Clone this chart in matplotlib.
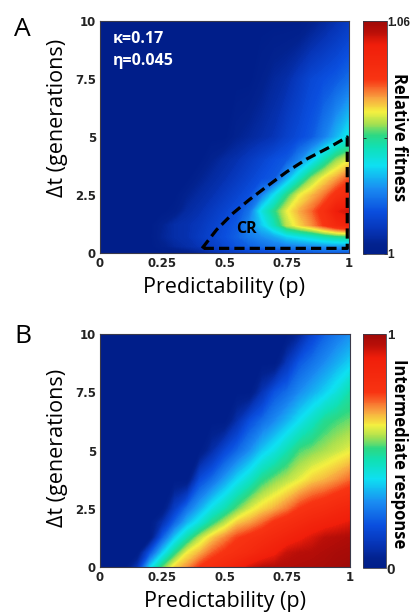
import numpy as np
import matplotlib
matplotlib.use("Agg")
import matplotlib.pyplot as plt
from matplotlib.colors import LinearSegmentedColormap, Normalize
from matplotlib.cm import ScalarMappable

# ---- grid coordinates -------------------------------------------------------
p_grid = np.round(np.arange(0, 1.0001, 0.05), 2)          # predictability
dt_rows_a = [0, 0.3, 0.7, 1.2, 1.8, 2.5, 3.2, 4.0, 5.0, 7.5, 10]   # generations
dt_rows_b = [0, 0.6, 1.25, 1.9, 2.5, 3.75, 5.0, 6.25, 7.5, 8.75, 10]

# ---- panel A: relative fitness (rows follow dt_rows_a, columns follow p_grid) ----
fit_00 = [1.000]*7 + [1.0012, 1.003, 1.0048, 1.006, 1.0072, 1.0084, 1.009, 1.0096, 1.0102, 1.0108, 1.0114, 1.012, 1.012, 1.012]
fit_03 = [1.000]*5 + [1.0018, 1.0036, 1.0048, 1.006, 1.0078, 1.0096, 1.0114, 1.0126, 1.0138, 1.015, 1.0156, 1.0162, 1.0168, 1.0174, 1.018, 1.018]
fit_07 = [1.000]*5 + [1.003, 1.0048, 1.0054, 1.0072, 1.009, 1.0108, 1.0126, 1.015, 1.0168, 1.0186, 1.0216, 1.0234, 1.0252, 1.0276, 1.0294, 1.030]
fit_12 = [1.000]*5 + [1.0024, 1.0048, 1.0054, 1.0066, 1.0084, 1.0102, 1.012, 1.0168, 1.021, 1.027, 1.0342, 1.0378, 1.0408, 1.045, 1.0492, 1.0516]
fit_18 = [1.000]*6 + [1.0012, 1.0042, 1.0054, 1.0072, 1.009, 1.0108, 1.0144, 1.024, 1.030, 1.036, 1.0396, 1.0426, 1.0468, 1.054, 1.0558]
fit_25 = [1.000]*7 + [1.0024, 1.0042, 1.0054, 1.0072, 1.009, 1.0108, 1.0156, 1.0228, 1.030, 1.036, 1.039, 1.042, 1.0462, 1.0492]
fit_32 = [1.000]*8 + [1.0024, 1.0042, 1.0054, 1.0072, 1.009, 1.0108, 1.012, 1.0192, 1.0264, 1.033, 1.0372, 1.0402, 1.0438]
fit_40 = [1.000]*9 + [1.0024, 1.0042, 1.0054, 1.0072, 1.009, 1.0108, 1.012, 1.0162, 1.0216, 1.0276, 1.033, 1.036]
fit_50 = [1.000]*11 + [1.0024, 1.0036, 1.0048, 1.006, 1.0084, 1.0102, 1.012, 1.0156, 1.0198, 1.024]
fit_75 = [1.000]*13 + [1.0018, 1.0036, 1.0048, 1.0072, 1.0096, 1.0108, 1.012, 1.0138]
fit_100 = [1.000]*17 + [1.0018, 1.0036, 1.0054, 1.0072]
fitness = np.array([fit_00, fit_03, fit_07, fit_12, fit_18, fit_25,
                    fit_32, fit_40, fit_50, fit_75, fit_100])

# dashed boundary of the CR region
cr_p = [0.41, 0.468, 0.535, 0.60, 0.669, 0.75, 0.83, 0.92, 0.993]
cr_dt = [0.2, 1.0, 1.72, 2.3, 2.86, 3.5, 4.05, 4.55, 5.0]
cr_floor = 0.2

# ---- panel B: intermediate response (rows follow dt_rows_b) ----------------
resp_000 = [0, 0, 0, 0.10, 0.36, 0.52, 0.63, 0.68, 0.75, 0.79, 0.83, 0.87, 0.92, 0.95, 0.96, 0.965, 0.97, 0.975, 0.98, 0.99, 1.0]
resp_060 = [0, 0, 0, 0, 0.19, 0.36, 0.50, 0.61, 0.66, 0.72, 0.76, 0.79, 0.82, 0.86, 0.89, 0.94, 0.955, 0.96, 0.97, 0.98, 0.985]
resp_125 = [0, 0, 0, 0, 0, 0.21, 0.355, 0.47, 0.57, 0.64, 0.69, 0.74, 0.77, 0.80, 0.83, 0.86, 0.89, 0.92, 0.95, 0.96, 0.97]
resp_190 = [0, 0, 0, 0, 0, 0.09, 0.22, 0.33, 0.41, 0.50, 0.57, 0.64, 0.67, 0.71, 0.76, 0.79, 0.82, 0.85, 0.87, 0.89, 0.91]
resp_250 = [0, 0, 0, 0, 0, 0, 0.13, 0.24, 0.32, 0.40, 0.46, 0.53, 0.59, 0.63, 0.66, 0.70, 0.75, 0.78, 0.80, 0.83, 0.85]
resp_375 = [0]*8 + [0.17, 0.23, 0.30, 0.37, 0.43, 0.50, 0.54, 0.57, 0.60, 0.635, 0.655, 0.68, 0.71]
resp_500 = [0]*9 + [0.08, 0.16, 0.22, 0.28, 0.35, 0.40, 0.46, 0.52, 0.54, 0.56, 0.58, 0.60]
resp_625 = [0]*11 + [0.09, 0.18, 0.23, 0.28, 0.33, 0.385, 0.44, 0.495, 0.52, 0.535]
resp_750 = [0]*13 + [0.10, 0.19, 0.23, 0.28, 0.32, 0.36, 0.41, 0.47]
resp_875 = [0]*15 + [0.11, 0.20, 0.24, 0.28, 0.32, 0.36]
resp_1000 = [0]*16 + [0.06, 0.15, 0.21, 0.25, 0.28]
response = np.array([resp_000, resp_060, resp_125, resp_190, resp_250, resp_375,
                     resp_500, resp_625, resp_750, resp_875, resp_1000])

x_ticks = [0, 0.25, 0.5, 0.75, 1]
x_ticklabels = ["0", "0.25", "0.5", "0.75", "1"]
y_ticks = [0, 2.5, 5, 7.5, 10]
y_ticklabels = ["0", "2.5", "5", "7.5", "10"]

# ---- colour map (jet-like, navy to dark red) --------------------------------
cmap = LinearSegmentedColormap.from_list("fieldmap", [
    (0.00, "#001e8a"), (0.04, "#02228f"), (0.10, "#0634b6"),
    (0.18, "#0a4ede"), (0.28, "#1a8cf2"), (0.38, "#0ee0f2"),
    (0.46, "#10e0b4"), (0.51, "#2cd884"), (0.56, "#a8e050"),
    (0.61, "#f4f040"), (0.67, "#f8a440"), (0.71, "#f86a2c"),
    (0.75, "#f83412"), (0.90, "#f01e0a"), (0.955, "#b80e08"),
    (1.00, "#a00a08")])

W, H = 411, 612
fig = plt.figure(figsize=(W / 100, H / 100), dpi=100)

def box(x0, y0, x1, y1):
    return [x0 / W, 1 - y1 / H, (x1 - x0) / W, (y1 - y0) / H]

def fx(px):
    return px / W

def fy(py):
    return 1 - py / H

tick_font = dict(family="DejaVu Sans", weight="bold", size=8.5)
label_font = dict(family="Open Sans", size=15.5)
spine_col = "#3a3a4a"

def draw_field(ax, rows, values, vmin, vmax):
    norm = Normalize(vmin, vmax)
    P, D = np.meshgrid(p_grid, rows)
    levels = np.linspace(vmin, vmax, 241)
    ax.contourf(P, D, values, levels=levels, cmap=cmap, norm=norm,
                extend="both", antialiased=False)
    return ScalarMappable(norm=norm, cmap=cmap)

def style_axes(ax):
    ax.set_xlim(0, 1)
    ax.set_ylim(0, 10)
    ax.set_xticks(x_ticks)
    ax.set_xticklabels(x_ticklabels, **tick_font)
    ax.set_yticks(y_ticks)
    ax.set_yticklabels(y_ticklabels, **tick_font)
    ax.tick_params(length=0, pad=3, colors="#222222")
    for s in ax.spines.values():
        s.set_color(spine_col)
        s.set_linewidth(0.8)
        s.set_zorder(5)

def style_cbar(cax, cb, ticks, ticklabels, size):
    cb.outline.set_edgecolor(spine_col)
    cb.outline.set_linewidth(0.6)
    cb.set_ticks(ticks)
    cb.set_ticklabels(ticklabels)
    for t in cax.get_yticklabels():
        t.set_fontfamily("Liberation Sans")
        t.set_fontweight("bold")
        t.set_fontsize(size)
    cax.tick_params(length=2.5, width=0.6, pad=0.5, colors="#222222",
                    direction="in", left=True, right=True)

# ---- panel A ----------------------------------------------------------------
axA = fig.add_axes(box(100, 21, 349, 253))
smA = draw_field(axA, dt_rows_a, fitness, 1.0, 1.06)
style_axes(axA)
bx = cr_p + [cr_p[-1], cr_p[0]]
by = cr_dt + [cr_floor, cr_floor]
axA.plot(bx, by, color="black", lw=2.3, dashes=(3.2, 1.6), clip_on=False,
         solid_capstyle="butt", zorder=6)
axA.text(0.588, 0.875, "CR", ha="center", va="baseline", family="Open Sans",
         weight="bold", size=11.5, color="black", zorder=6)
axA.text(0.052, 0.904, "\u03ba=0.17", transform=axA.transAxes, ha="left",
         va="baseline", family="Open Sans", weight="bold", size=11.5,
         color="white", zorder=6)
axA.text(0.052, 0.810, "\u03b7=0.045", transform=axA.transAxes, ha="left",
         va="baseline", family="Open Sans", weight="bold", size=11.5,
         color="white", zorder=6)

caxA = fig.add_axes(box(363, 21, 387, 254))
cbA = fig.colorbar(smA, cax=caxA)
style_cbar(caxA, cbA, [1.0, 1.03, 1.06], ["1", "", "1.06"], 8.5)

# ---- panel B ----------------------------------------------------------------
axB = fig.add_axes(box(100, 334, 350, 567))
smB = draw_field(axB, dt_rows_b, response, 0.0, 1.0)
style_axes(axB)

caxB = fig.add_axes(box(363, 334, 386, 568))
cbB = fig.colorbar(smB, cax=caxB)
style_cbar(caxB, cbB, [0, 1], ["0", "1"], 9.5)
caxB.tick_params(length=0)
caxB.get_yticklabels()[0].set_fontsize(11)

# ---- axis titles and panel letters -----------------------------------------
for cy in (118, 448):
    fig.text(fx(57), fy(cy), "\u0394t (generations)", rotation=90,
             ha="center", va="center", **label_font)
fig.text(fx(224), fy(287), "Predictability (p)", ha="center", va="center",
         **label_font)
fig.text(fx(224.5), fy(602), "Predictability (p)", ha="center", va="center",
         **label_font)
fig.text(fx(398.5), fy(137.5), "Relative fitness", rotation=270, ha="center",
         va="center", family="Open Sans", weight="bold", size=12)
fig.text(fx(398.5), fy(453.5), "Intermediate response", rotation=270,
         ha="center", va="center", family="Open Sans", weight="bold", size=12)

fig.text(fx(22.5), fy(29), "A", ha="center", va="center",
         family="Open Sans", size=19)
fig.text(fx(23), fy(336), "B", ha="center", va="center",
         family="Open Sans", size=19)

fig.savefig("out.png", dpi=100)
